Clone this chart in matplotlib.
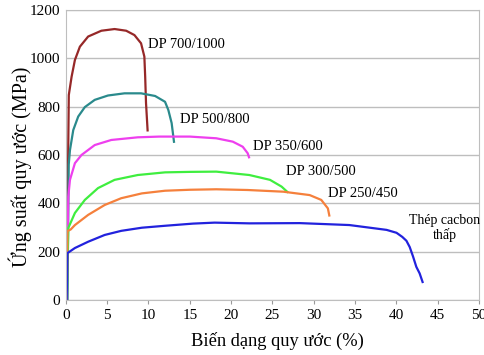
import matplotlib
matplotlib.use('Agg')
import matplotlib.pyplot as plt
from matplotlib import rcParams

rcParams['font.family'] = ['Liberation Serif', 'DejaVu Serif']
rcParams['font.size'] = 10.5

# DP 700/1000
x_700 = [0, 0.15, 0.25, 0.36, 0.7, 1.1, 1.7, 2.7, 4.3, 5.9, 7.3, 8.3, 9.1, 9.5, 9.6, 9.7, 9.9]
y_700 = [0, 0, 500, 848, 924, 993, 1048, 1090, 1114, 1121, 1114, 1096, 1062, 1007, 924, 815, 697]
# DP 500/800
x_500 = [0, 0.2, 0.35, 0.5, 0.9, 1.5, 2.3, 3.5, 5.1, 7.1, 9.1, 10.8, 12.0, 12.4, 12.8, 13.1]
y_500 = [0, 0, 560, 620, 703, 759, 798, 828, 846, 855, 855, 844, 820, 786, 732, 650]
# DP 350/600
x_350 = [0, 0.1, 0.3, 0.5, 1.1, 1.9, 3.5, 5.5, 8.7, 11.3, 15.0, 18.2, 20.2, 21.4, 22.0, 22.2]
y_350 = [0, 0, 428, 497, 566, 600, 641, 662, 673, 676, 676, 669, 655, 634, 607, 586]
# DP 300/500
x_300 = [0, 0.1, 0.3, 1.1, 2.3, 3.9, 5.9, 8.7, 12.0, 15.0, 18.2, 22.2, 24.7, 26.1, 26.9]
y_300 = [0, 0, 298, 360, 414, 463, 497, 517, 528, 530, 531, 517, 497, 469, 444]
# DP 250/450
x_250 = [0, 0.1, 0.2, 0.6, 1.1, 2.7, 4.7, 6.7, 9.2, 12.0, 15.0, 18.2, 22.0, 26.3, 29.5, 30.9, 31.7, 31.9]
y_250 = [0, 0, 285, 292, 310, 352, 393, 421, 441, 452, 456, 458, 455, 448, 434, 414, 379, 345]
# Thep cacbon thap
x_ct = [0, 0.1, 0.2, 1.1, 2.7, 4.7, 6.7, 9.2, 12.0, 15.4, 18.0, 22.2, 28.3, 34.3, 38.8, 40.0, 40.7, 41.2, 41.6, 42.0, 42.4, 42.8, 43.2]
y_ct = [0, 0, 194, 215, 241, 269, 286, 299, 307, 316, 320, 317, 318, 310, 290, 278, 261, 245, 219, 180, 137, 110, 70]

curves = [
    (x_700, y_700, '#962828', 'DP 700/1000', 9.9, 1055),
    (x_500, y_500, '#2A8A8C', 'DP 500/800', 13.8, 745),
    (x_350, y_350, '#EE3FEE', 'DP 350/600', 22.6, 633),
    (x_300, y_300, '#3FEE3F', 'DP 300/500', 26.6, 531),
    (x_250, y_250, '#F5803C', 'DP 250/450', 31.7, 439),
    (x_ct, y_ct, '#2222DD', 'Thép cacbon\nthấp', 45.8, 298),
]

fig = plt.figure(figsize=(4.84, 3.55), dpi=100)
ax = fig.add_axes([0.136, 0.155, 0.854, 0.817])

for xs, ys, c, lab, tx, ty in curves:
    ax.plot(xs, ys, color=c, lw=1.6, solid_capstyle='butt', solid_joinstyle='round')
    if lab.startswith('Th'):
        ax.text(tx, ty, lab, ha='center', va='center', fontsize=10, linespacing=1.1)
    else:
        ax.text(tx, ty, lab, ha='left', va='center', fontsize=10.5)

ax.set_xlim(0, 50)
ax.set_ylim(0, 1200)
ax.set_xticks(range(0, 51, 5))
ax.set_yticks(range(0, 1201, 200))
ax.yaxis.grid(True, color='#BEBEBE', lw=1)
ax.set_axisbelow(True)
for s in ax.spines.values():
    s.set_color('#BEBEBE')
ax.tick_params(axis='x', length=3, color='#9A9A9A', labelsize=11)
ax.tick_params(axis='y', length=0, labelsize=11, pad=4)
ax.set_xlabel('Biến dạng quy ước (%)', fontsize=13.3)
ax.set_ylabel('Ứng suất quy ước (MPa)', fontsize=14.5)
ax.xaxis.set_label_coords(0.512, -0.11)
ax.yaxis.set_label_coords(-0.082, 0.46)

fig.savefig('out.png', dpi=100)
